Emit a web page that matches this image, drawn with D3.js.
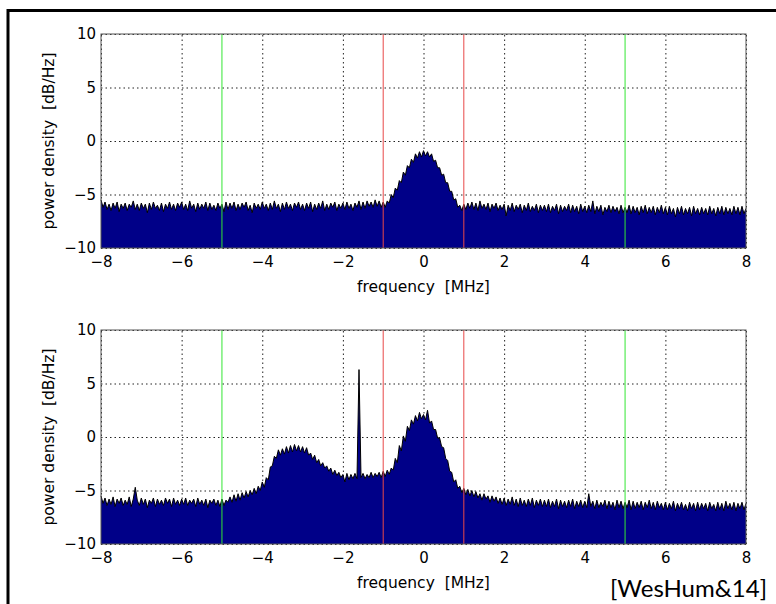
<!DOCTYPE html>
<html>
<head>
<meta charset="utf-8">
<script src="https://cdn.jsdelivr.net/npm/d3@7"></script>
<style>
  body { margin: 0; background: #fff; }
  svg { display: block; }
  .tick text { font-family: "DejaVu Sans", sans-serif; font-size: 15px; fill: #000; }
  .grid line { stroke: #222; stroke-dasharray: 1.5, 3; }
  .lbl { font-family: "DejaVu Sans", sans-serif; font-size: 15.5px; fill: #000; }
</style>
</head>
<body>
<div id="chart"></div>
<script>
// spectrum sampled every 0.05 MHz from -8 to 8 MHz (321 samples), dB/Hz
var freqMin = -8,
  freqStep = 0.05;

var topPsd = [
  -5.5,-6.2,-5.7,-6.4,-5.9,-6.5,-5.8,-6.3,-5.7,-6.6,-5.9,-6.3,-5.8,-6.5,-5.9,-6.2,-5.6,-6.4,-5.9,-6.5,
  -5.8,-6.3,-5.9,-6.7,-5.8,-6.4,-5.7,-6.3,-6.0,-6.5,-5.8,-6.6,-5.9,-6.3,-5.7,-6.4,-5.9,-6.5,-5.8,-6.2,
  -5.7,-6.4,-5.9,-6.5,-5.6,-6.3,-5.9,-6.6,-5.8,-6.4,-5.9,-6.3,-5.7,-6.5,-5.8,-6.4,-6.0,-6.5,-5.8,-6.3,
  -5.9,-6.6,-5.7,-6.4,-5.8,-6.3,-5.7,-6.5,-5.9,-6.4,-5.8,-6.2,-5.7,-6.5,-6.0,-6.7,-5.8,-6.3,-5.9,-6.4,
  -5.7,-6.3,-5.9,-6.5,-5.8,-6.4,-5.6,-6.3,-5.9,-6.6,-5.8,-6.4,-5.7,-6.3,-5.9,-6.5,-5.8,-6.2,-5.7,-6.4,
  -5.9,-6.5,-5.8,-6.3,-5.7,-6.6,-5.9,-6.4,-5.8,-6.3,-5.6,-6.5,-5.9,-6.4,-5.8,-6.2,-5.7,-6.5,-5.9,-6.3,
  -5.8,-6.4,-5.7,-6.3,-5.9,-6.5,-5.8,-6.2,-5.6,-6.4,-5.7,-6.3,-5.6,-6.1,-5.7,-6.2,-5.5,-6.1,-5.6,-6.2,
  -5.7,-6.2,-5.6,-5.8,-5.0,-5.3,-4.4,-4.6,-3.7,-3.9,-2.9,-3.2,-2.3,-2.5,-1.7,-2.0,-1.2,-1.6,-1.0,-1.5,
  -0.9,-1.4,-1.0,-1.5,-1.2,-1.9,-1.8,-2.5,-2.5,-3.2,-3.1,-3.9,-3.9,-4.7,-4.7,-5.5,-5.4,-6.2,-6.0,-6.5,
  -5.9,-6.4,-5.8,-6.3,-5.7,-6.4,-5.8,-6.5,-5.6,-6.3,-5.9,-6.4,-5.8,-6.6,-5.9,-6.3,-5.8,-6.5,-6.0,-6.4,
  -5.9,-7.0,-6.0,-6.5,-5.8,-6.6,-6.0,-6.4,-5.9,-6.7,-6.0,-6.5,-5.8,-6.6,-6.1,-6.5,-5.9,-6.7,-6.0,-6.5,
  -6.0,-6.6,-5.9,-6.7,-6.1,-6.5,-5.9,-6.8,-6.0,-6.6,-6.1,-6.5,-5.9,-6.7,-6.0,-6.6,-6.1,-6.8,-5.9,-6.6,
  -6.1,-6.7,-6.0,-6.6,-5.6,-6.8,-6.1,-6.6,-6.0,-6.9,-6.2,-6.6,-6.0,-6.7,-6.1,-6.6,-6.2,-6.8,-6.0,-6.7,
  -6.2,-6.7,-6.0,-6.8,-6.1,-6.7,-6.2,-6.9,-6.1,-6.7,-6.0,-6.8,-6.2,-6.7,-6.1,-6.9,-6.2,-6.7,-6.0,-6.8,
  -6.2,-6.9,-6.1,-6.8,-6.3,-7.1,-6.2,-6.8,-6.1,-6.9,-6.3,-6.8,-6.2,-7.0,-6.1,-6.8,-6.3,-6.9,-6.2,-6.8,
  -6.3,-6.9,-6.1,-6.8,-6.3,-7.0,-6.2,-6.8,-6.1,-6.9,-6.2,-6.8,-6.3,-6.9,-6.1,-6.8,-6.2,-6.9,-6.1,-6.8,
  -6.3
];

var bottomPsd = [
  -5.5,-6.2,-5.7,-6.4,-5.8,-6.3,-5.6,-6.5,-5.8,-6.2,-5.7,-6.4,-5.9,-6.3,-5.6,-6.5,-5.8,-4.7,-5.9,-6.4,
  -5.7,-6.3,-5.8,-6.6,-5.9,-6.2,-5.7,-6.5,-5.8,-6.3,-5.9,-6.4,-5.7,-6.2,-5.8,-6.5,-5.7,-6.3,-5.9,-6.4,
  -5.8,-6.3,-5.7,-6.4,-5.9,-6.2,-5.8,-6.5,-5.7,-6.3,-5.9,-6.4,-5.8,-6.6,-5.9,-6.2,-5.8,-6.4,-5.9,-6.5,
  -5.8,-6.4,-5.9,-6.1,-5.6,-6.1,-5.4,-6.0,-5.3,-5.9,-5.2,-5.7,-5.1,-5.6,-5.0,-5.4,-4.8,-5.3,-4.6,-5.0,
  -4.2,-4.7,-3.8,-4.0,-2.8,-2.7,-1.8,-2.0,-1.2,-1.7,-1.1,-1.6,-0.9,-1.5,-0.8,-1.4,-0.7,-1.3,-0.8,-1.4,
  -0.9,-1.5,-1.0,-1.7,-1.5,-2.1,-1.7,-2.4,-2.1,-2.7,-2.4,-2.9,-2.7,-3.2,-2.9,-3.5,-3.1,-3.6,-3.3,-3.8,
  -3.5,-4.2,-3.4,-4.0,-3.5,-3.9,-3.4,-3.9,6.3,-3.8,-3.4,-3.9,-3.5,-3.8,-3.3,-3.8,-3.4,-3.7,-3.3,-3.8,
  -3.2,-3.7,-3.1,-3.5,-2.9,-3.1,-2.0,-2.4,-0.8,-1.3,0.1,-0.4,1.0,0.6,1.6,1.2,2.0,1.5,2.3,1.7,
  2.1,1.6,2.5,1.3,1.5,0.7,0.7,-0.1,-0.1,-0.9,-1.0,-2.0,-2.2,-3.2,-3.3,-4.2,-4.0,-4.8,-4.6,-5.2,
  -4.8,-5.4,-4.9,-5.5,-5.0,-5.6,-5.1,-5.7,-5.3,-5.9,-5.3,-5.8,-5.5,-6.1,-5.5,-6.0,-5.6,-6.2,-5.7,-6.3,
  -5.7,-6.4,-5.8,-6.3,-5.6,-6.4,-5.8,-6.5,-5.7,-6.4,-5.9,-6.5,-5.8,-6.4,-5.7,-6.6,-5.9,-6.4,-5.8,-6.5,
  -5.9,-6.5,-5.8,-6.6,-6.0,-6.5,-5.8,-6.7,-5.9,-6.5,-6.0,-6.6,-5.9,-6.5,-5.8,-6.7,-6.0,-6.5,-5.9,-6.6,
  -6.0,-6.6,-5.3,-6.5,-6.0,-6.7,-5.9,-6.6,-6.1,-6.5,-5.9,-6.7,-6.0,-6.6,-6.1,-6.8,-5.9,-6.6,-6.0,-6.7,
  -6.1,-6.6,-5.9,-6.8,-6.0,-6.7,-6.1,-6.6,-6.0,-6.8,-6.1,-6.6,-5.9,-6.7,-6.1,-6.8,-6.0,-6.6,-6.2,-6.8,
  -6.1,-6.8,-6.2,-6.7,-6.0,-6.9,-6.2,-6.7,-6.1,-6.8,-6.3,-6.9,-6.1,-6.7,-6.2,-6.9,-6.1,-6.8,-6.2,-6.7,
  -6.2,-6.9,-6.1,-6.7,-6.3,-6.9,-6.1,-6.8,-6.2,-6.9,-6.0,-6.7,-6.2,-6.8,-6.1,-6.9,-6.2,-6.7,-6.1,-6.8,
  -6.2
];

var freqTicks = [-8, -6, -4, -2, 0, 2, 4, 6, 8];
var psdTicks = [-10, -5, 0, 5, 10];
var greenMarks = [-5, 5]; // band edges
var redMarks = [-1, 1]; // channel edges

var width = 776,
  height = 604;

var svg = d3
  .select('#chart')
  .append('svg')
  .attr('width', width)
  .attr('height', height);

svg.append('rect').attr('width', width).attr('height', height).attr('fill', '#fff');

// slide frame (top + left edge only)
svg.append('line').attr('x1', 7).attr('x2', width).attr('y1', 10.5).attr('y2', 10.5)
  .attr('stroke', '#000').attr('stroke-width', 3);
svg.append('line').attr('x1', 8).attr('x2', 8).attr('y1', 9).attr('y2', height)
  .attr('stroke', '#000').attr('stroke-width', 3);

var xScale = d3.scaleLinear().domain([-8, 8]).range([101, 746]);

var panels = [
  { data: topPsd, top: 34, bottom: 248 },
  { data: bottomPsd, top: 330, bottom: 544 }
];

panels.forEach(function (p) {
  var yScale = d3.scaleLinear().domain([-10, 10]).range([p.bottom, p.top]);
  var h = p.bottom - p.top;
  var g = svg.append('g');

  // dotted grid
  g.append('g')
    .attr('class', 'grid')
    .attr('transform', 'translate(0,' + p.bottom + ')')
    .call(d3.axisBottom(xScale).tickValues(freqTicks).tickSize(-h).tickFormat(''))
    .call(function (s) { s.select('.domain').remove(); });
  g.append('g')
    .attr('class', 'grid')
    .attr('transform', 'translate(' + xScale(-8) + ',0)')
    .call(d3.axisLeft(yScale).tickValues(psdTicks).tickSize(-(xScale(8) - xScale(-8))).tickFormat(''))
    .call(function (s) { s.select('.domain').remove(); });

  var pts = p.data.map(function (v, i) {
    return [freqMin + i * freqStep, v];
  });

  var area = d3.area()
    .x(function (d) { return xScale(d[0]); })
    .y0(yScale(-10))
    .y1(function (d) { return yScale(d[1]); });
  var line = d3.line()
    .x(function (d) { return xScale(d[0]); })
    .y(function (d) { return yScale(d[1]); });

  g.append('path').datum(pts).attr('d', area).attr('fill', '#000088');
  g.append('path').datum(pts).attr('d', line)
    .attr('fill', 'none').attr('stroke', '#000').attr('stroke-width', 1);

  // marker lines
  g.selectAll('.green').data(greenMarks).enter().append('line')
    .attr('x1', function (d) { return xScale(d); })
    .attr('x2', function (d) { return xScale(d); })
    .attr('y1', p.top).attr('y2', p.bottom)
    .attr('stroke', '#33e633').attr('stroke-width', 1);
  g.selectAll('.red').data(redMarks).enter().append('line')
    .attr('x1', function (d) { return xScale(d); })
    .attr('x2', function (d) { return xScale(d); })
    .attr('y1', p.top).attr('y2', p.bottom)
    .attr('stroke', '#e84848').attr('stroke-width', 1);

  // box
  g.append('rect')
    .attr('x', xScale(-8)).attr('y', p.top)
    .attr('width', xScale(8) - xScale(-8)).attr('height', h)
    .attr('fill', 'none').attr('stroke', '#555').attr('stroke-width', 1);

  // tick labels
  var xAxis = g.append('g')
    .attr('transform', 'translate(0,' + p.bottom + ')')
    .call(d3.axisBottom(xScale).tickValues(freqTicks).tickSize(0).tickPadding(8));
  xAxis.select('.domain').remove();
  var yAxis = g.append('g')
    .attr('transform', 'translate(' + xScale(-8) + ',0)')
    .call(d3.axisLeft(yScale).tickValues(psdTicks).tickSize(0).tickPadding(5));
  yAxis.select('.domain').remove();

  g.append('text')
    .attr('class', 'lbl')
    .attr('x', (xScale(-8) + xScale(8)) / 2)
    .attr('y', p.bottom + 44)
    .attr('text-anchor', 'middle')
    .text('frequency\u00a0\u00a0[MHz]');

  g.append('text')
    .attr('class', 'lbl')
    .attr('transform', 'translate(54,' + (p.top + h / 2) + ') rotate(-90)')
    .attr('text-anchor', 'middle')
    .text('power density\u00a0\u00a0[dB/Hz]');
});

svg.append('text')
  .attr('x', 767)
  .attr('y', 597)
  .attr('text-anchor', 'end')
  .style('font-family', 'Lato, "Noto Sans", sans-serif')
  .style('font-size', '24px')
  .text('[WesHum&14]');
</script>
</body>
</html>
